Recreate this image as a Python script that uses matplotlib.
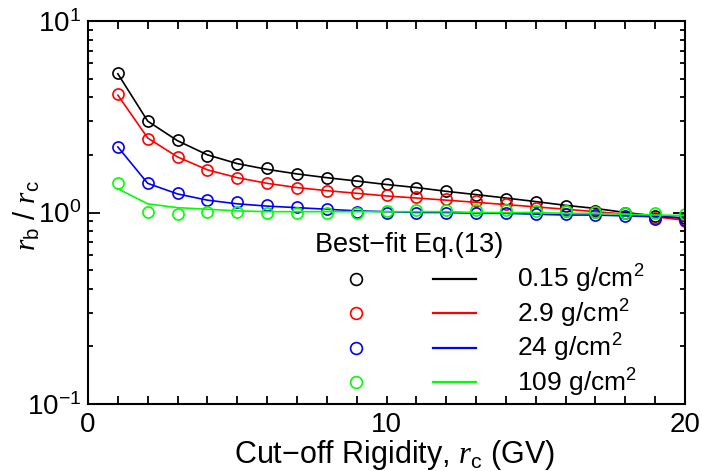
import numpy as np
import matplotlib
matplotlib.use("Agg")
import matplotlib.pyplot as plt
from matplotlib.ticker import MultipleLocator, LogLocator, NullFormatter
from matplotlib.lines import Line2D
from matplotlib.legend_handler import HandlerTuple

plt.rcParams['font.family'] = ['Liberation Sans', 'DejaVu Sans']
plt.rcParams['mathtext.fontset'] = 'custom'
plt.rcParams['mathtext.rm'] = 'Liberation Sans'
plt.rcParams['mathtext.it'] = 'Liberation Serif:italic'
plt.rcParams['mathtext.default'] = 'regular'

# cut-off rigidity (GV)
rc = np.arange(1, 21)

# simulated ratios r_b / r_c (circles)
pts_015 = [5.38, 3.02, 2.38, 1.98, 1.80, 1.70, 1.59, 1.52, 1.46, 1.41,
           1.34, 1.29, 1.24, 1.17, 1.13, 1.08, 1.02, 1.00, 0.96, 0.94]
pts_29 = [4.18, 2.43, 1.94, 1.66, 1.52, 1.42, 1.35, 1.30, 1.26, 1.23,
          1.20, 1.18, 1.15, 1.11, 1.06, 1.02, 1.01, 0.99, 0.94, 0.90]
pts_24 = [2.21, 1.42, 1.26, 1.16, 1.13, 1.09, 1.07, 1.04, 1.01, 1.00,
          1.00, 0.99, 0.99, 0.99, 0.98, 0.98, 0.97, 0.96, 0.93, 0.91]
pts_109 = [1.42, 1.01, 0.98, 1.01, 1.01, 1.00, 0.99, 0.99, 1.00, 1.02,
           1.03, 1.03, 1.03, 1.03, 1.02, 1.02, 1.01, 1.00, 1.00, 0.98]

# best-fit Eq.(13) curves
fit_015 = [5.30, 3.00, 2.37, 2.00, 1.80, 1.68, 1.59, 1.52, 1.46, 1.40,
           1.35, 1.29, 1.24, 1.19, 1.14, 1.09, 1.05, 1.00, 0.96, 0.93]
fit_29 = [4.10, 2.45, 1.95, 1.67, 1.52, 1.42, 1.35, 1.30, 1.26, 1.22,
          1.19, 1.16, 1.13, 1.10, 1.07, 1.04, 1.01, 0.98, 0.95, 0.91]
fit_24 = [2.20, 1.42, 1.25, 1.16, 1.11, 1.08, 1.06, 1.04, 1.02, 1.01,
          1.00, 1.00, 0.99, 0.99, 0.98, 0.97, 0.97, 0.96, 0.95, 0.94]
fit_109 = [1.33, 1.11, 1.06, 1.04, 1.02, 1.01, 1.01, 1.01, 1.01, 1.01,
           1.01, 1.01, 1.00, 1.00, 1.00, 0.99, 0.99, 0.98, 0.97, 0.965]

depths = ['0.15 g/cm$^2$', '2.9 g/cm$^2$', '24 g/cm$^2$', '109 g/cm$^2$']
colors = ['black', 'red', 'blue', '#00ff00']
points = [pts_015, pts_29, pts_24, pts_109]
fits = [fit_015, fit_29, fit_24, fit_109]

fig = plt.figure(figsize=(7.02, 4.71), dpi=100)
ax = fig.add_axes([88/702, 1 - 404/471, 597/702, 383/471])

handles = []
for pts, fit, c in zip(points, fits, colors):
    ax.plot(rc, fit, color=c, lw=1.2)
    ax.plot(rc, pts, 'o', mfc='none', mec=c, ms=8, mew=1.2)
    circ = Line2D([], [], ls='none', marker='o', mfc='none', mec=c, ms=8.5, mew=1.2)
    line = Line2D([], [], color=c, lw=1.6)
    handles.append((circ, line))

ax.set_yscale('log')
ax.set_xlim(0, 20)
ax.set_ylim(0.1, 10)

ax.xaxis.set_major_locator(MultipleLocator(10))
ax.xaxis.set_minor_locator(MultipleLocator(1))
ax.yaxis.set_major_locator(LogLocator(base=10))
ax.yaxis.set_minor_locator(LogLocator(base=10, subs=np.arange(2, 10)))
ax.yaxis.set_minor_formatter(NullFormatter())

ax.tick_params(which='both', direction='in', top=True, right=True, width=1.3,
               labelsize=20)
ax.tick_params(axis='x', which='both', length=5.8, pad=6)
ax.tick_params(axis='y', which='major', length=8.5, pad=5)
ax.tick_params(axis='y', which='minor', length=3.3)
for s in ax.spines.values():
    s.set_linewidth(1.5)

ax.set_xlabel('Cut\u2212off Rigidity, $\\mathit{r}_{c}$ (GV)', fontsize=22, labelpad=0)
ax.xaxis.label.set_x((395 - 88) / 597)
ax.set_ylabel('$\\mathit{r}_{b}$ / $\\mathit{r}_{c}$', fontsize=21)
ax.yaxis.set_label_coords((42 - 88) / 597, (404 - 216) / 383)

ax.text((315 - 88) / 597, (404 - 252) / 383, 'Best\u2212fit Eq.(13)', fontsize=19.5,
        transform=ax.transAxes, ha='left', va='baseline')

fs = 19
em = fs * 100 / 72
leg = ax.legend(handles, depths,
                handler_map={tuple: HandlerTuple(ndivide=None, pad=56 / em)},
                loc='upper left', bbox_to_anchor=((334 - 88) / 597, (404 - 263) / 383),
                frameon=False, fontsize=fs, borderpad=0, borderaxespad=0,
                handlelength=142 / em, handletextpad=41 / em,
                labelspacing=0.09, numpoints=1)

fig.savefig('out.png', dpi=100)
